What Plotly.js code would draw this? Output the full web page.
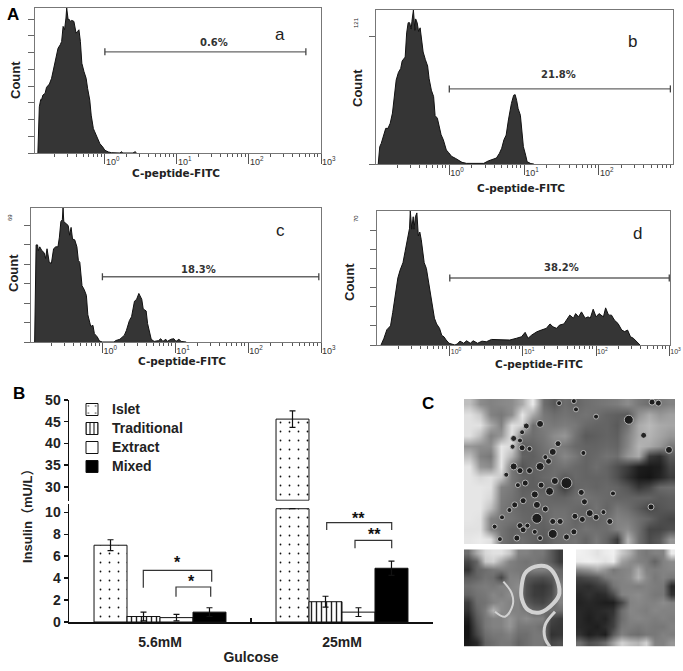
<!DOCTYPE html>
<html>
<head>
<meta charset="utf-8">
<script src="https://cdn.plot.ly/plotly-3.0.1.min.js"></script>
<style>body{margin:0;background:#fff}</style>
</head>
<body>
<div id="plotArea" style="width:683px;height:671px"></div>
<script>
// Panel A histograms - x is log10 of C-peptide-FITC, y is count
var logA = [-0.93,-0.91,-0.89,-0.88,-0.86,-0.83,-0.81,-0.77,-0.74,-0.72,-0.69,-0.67,-0.65,-0.62,-0.60,-0.58,-0.56,-0.54,-0.53,-0.51,-0.50,-0.48,-0.46,-0.43,-0.40,-0.38,-0.36,-0.34,-0.32,-0.29,-0.26,-0.24,-0.21,-0.19,-0.16,-0.14,-0.11,-0.07,-0.03,0,0.05,0.09,0.21,0.23,0.25,0.39,0.42,0.44];
var countA = [0,2.76,3.2,3.16,3.46,3.56,3.92,4.12,4.46,4.86,5.46,5.76,6.26,6.46,6.66,7.56,7.36,8.06,8.66,7.96,8,7.86,7.92,7.86,7.16,7.26,7.36,6.66,5.36,4.86,4.46,3.86,3.16,2.26,1.46,1.26,0.96,0.56,0.36,0.16,0.06,0.02,0,0.08,0,0,0.08,0];

var logB = [-0.95,-0.93,-0.91,-0.88,-0.85,-0.82,-0.79,-0.76,-0.73,-0.71,-0.68,-0.65,-0.63,-0.59,-0.57,-0.55,-0.53,-0.51,-0.50,-0.48,-0.46,-0.45,-0.43,-0.41,-0.39,-0.37,-0.35,-0.32,-0.29,-0.27,-0.24,-0.21,-0.19,-0.16,-0.13,-0.11,-0.08,-0.04,-0.01,0.03,0.08,0.12,0.17,0.23,0.30,0.41,0.46,0.52,0.59,0.63,0.67,0.70,0.73,0.76,0.79,0.81,0.83,0.86,0.88,0.90,0.92,0.95,0.97,0.99,1.02,1.04,1.09,1.13];
var countB = [0,13.6,16.2,22.7,28,28,32,40,53,66,72,75,81,84,103,111,111,106,112,121,105,114,111,104,107,96,88,82,77,67,58,53,38,36,28,23,19,11,9,6,4.5,3,1.3,0.5,0.5,0,0.5,2.4,3.7,4.7,8.4,12.3,19,22.7,34.6,42.4,47.6,54,54.5,50,43.5,38.3,24,13.6,7,1.8,0.3,0];

var logC = [-0.93,-0.91,-0.89,-0.88,-0.86,-0.83,-0.80,-0.78,-0.76,-0.73,-0.70,-0.67,-0.64,-0.61,-0.59,-0.57,-0.55,-0.54,-0.53,-0.50,-0.47,-0.45,-0.43,-0.41,-0.38,-0.35,-0.33,-0.31,-0.28,-0.25,-0.22,-0.20,-0.16,-0.13,-0.11,-0.07,-0.04,0,0.16,0.18,0.24,0.30,0.33,0.37,0.40,0.44,0.47,0.50,0.54,0.56,0.60,0.62,0.65,0.67,0.71,0.77,0.80,0.83,0.87,0.89,0.94,0.98,1.01,1.05,1.08,1.12,1.15];
var countC = [0,50,50,47,49,47,46,43,48,41,40.5,48,49,49,54,62,63,69,62,61,60,55,59,53,52.6,49,42,41,29,27,24,14,8,8.6,4.3,2.6,0.5,0,0,0.7,1.4,3.4,6,11,13,21,22,25,22,17,16,9.5,5,1.4,0.3,0.7,1.7,0.3,1.4,0.3,1.4,1.7,0.3,1.4,0.3,0.3,0];

var logD = [-0.94,-0.90,-0.86,-0.81,-0.78,-0.75,-0.71,-0.68,-0.64,-0.61,-0.58,-0.55,-0.54,-0.52,-0.50,-0.49,-0.47,-0.45,-0.43,-0.41,-0.39,-0.37,-0.35,-0.32,-0.30,-0.27,-0.24,-0.21,-0.18,-0.14,-0.11,-0.08,-0.05,-0.01,0.07,0.10,0.14,0.19,0.23,0.28,0.32,0.38,0.44,0.50,0.57,0.64,0.73,0.82,0.91,0.98,1.03,1.07,1.12,1.19,1.25,1.32,1.37,1.41,1.46,1.50,1.56,1.60,1.64,1.69,1.72,1.76,1.80,1.85,1.89,1.92,1.96,2.00,2.04,2.10,2.13,2.17,2.21,2.25,2.30,2.35,2.39,2.43,2.47,2.51,2.55,2.60];
var countD = [0,3.5,8,10,17,26,35,39,43,49,56,61,70,60.5,67,60.5,67,69,57,59,55,47,43,40,35,29,22.5,14,11,8.7,5,4.3,2.6,0.9,0,0.5,2,0.9,2.2,0.9,2.2,0.9,2,1.7,2.9,2.9,2.6,2.6,3.5,4.3,6.6,3.5,5.2,6.9,7.8,8.7,11,9.5,8.7,10.4,11,13,15.6,14,16.4,14.7,17.3,14,14.7,14,18.7,14.7,16.4,14.7,19.4,15.6,15.6,13,11.2,7.8,7,7.8,4.3,3.5,1.7,0];

// gate bars: [start, end] in log10, height in counts
var gateLogA = [0,2.79], gateLogB = [0,2.955], gateLogC = [0,2.97], gateLogD = [0,3];
var gateCountA = 6.04, gateCountB = 59, gateCountC = 33.6, gateCountD = 35;
var gateLabels = ["0.6%","21.8%","18.3%","38.2%"];
var decadeTicks = [1,10,100,1000];
var decadeText = ["10<sup>0</sup>","10<sup>1</sup>","10<sup>2</sup>","10<sup>3</sup>"];

// Panel B
var categories = ["5.6mM","25mM"];
var islet = [7.0,45.6], isletErr = [0.5,1.9];
var traditional = [0.5,1.85], traditionalErr = [0.4,0.5];
var extract = [0.4,0.9], extractErr = [0.3,0.4];
var mixed = [0.9,4.9], mixedErr = [0.4,0.65];
var brokenLow = 10.33, brokenHigh = 26.9;

// Panel C - micrographs, grey levels read on a coarse grid
var greyTop = [
[190,140,130,135,140,170,235,110,90,110,100,110,115,120,125,140,120,110,120,130],
[225,200,130,120,140,230,170,120,110,115,110,115,110,100,95,90,145,170,150,160],
[225,225,170,130,225,210,110,125,120,125,120,105,100,100,90,115,170,185,170,165],
[225,190,130,150,225,120,110,120,140,150,115,90,95,100,95,130,170,180,165,150],
[150,140,140,230,215,90,100,115,130,120,105,100,100,105,100,135,180,170,150,120],
[190,130,120,230,180,100,95,110,115,135,120,100,105,115,110,150,170,60,45,90],
[230,150,140,230,120,85,100,100,110,115,105,100,110,100,80,60,30,25,30,70],
[230,215,225,200,120,100,95,105,110,90,105,100,100,100,80,50,25,20,35,60],
[230,230,225,130,120,95,95,95,100,60,100,105,100,105,100,85,55,70,105,110],
[230,230,215,125,115,100,105,105,100,100,110,115,110,105,100,100,100,100,90,95],
[230,230,190,120,110,100,100,105,110,110,105,100,115,100,120,110,90,70,85,90],
[230,225,130,120,115,105,100,100,115,115,100,105,100,110,130,125,110,100,80,70],
[225,225,130,115,100,100,100,95,105,110,105,115,110,110,130,140,110,70,70,80],
[230,235,225,115,100,110,100,90,105,110,115,100,120,100,60,180,110,75,90,150]];
var granuleCol = [7.2,5.9,5.5,4.7,5.3,4.6,5.5,6.2,9,10.4,10.6,8.4,8.9,7.2,8,7.7,4.7,5.3,6.2,4,5.8,5.1,7.3,8.6,6.7,8.1,9.7,11.1,11.4,5.6,4.8,6.9,7.7,4.3,6.9,5.3,5.6,8.4,9.1,10.5,11.2,11.9,12.5,13.2,13.8,8.4,9.7,10.4,5,2.9,3.6,3.4,17.7,19.4,18.4,17.8,17,15.6,12.5,11.3,14.1,7.2,6,6.7];
var granuleRow = [2.4,2.6,3.2,3.8,4,4.6,4.7,4.8,0.4,0.2,1,5.1,4.3,6.5,6,5.6,6.5,6.9,6.9,7.3,8.1,8.3,8.3,7.9,9.2,8.9,8.1,9,9.9,9.8,10.2,10.2,10.6,10.7,11.5,12.2,12.6,11.8,11.8,11.3,11.6,11,11.4,10.9,11.8,13,13.3,12.8,13.4,12.3,11.4,13.5,10.4,4.9,0.4,0.3,3.5,2,1.7,5.2,9.1,13.4,12.2,12.8];
var granuleSize = [7,6,5,6,5,5,6,5,5,5,5,7,6,8,6,5,7,6,6,5,6,5,6,7,7,8,11,6,6,6,6,7,6,5,10,6,6,6,6,6,6,7,6,5,6,9,6,6,6,5,5,5,6,7,6,6,6,9,5,5,5,5,5,5];
var greyLeft = [
[110,170,215,225,225,200,130,130,120,120,90,60],
[70,100,200,210,170,130,120,115,120,110,90,60],
[50,100,110,120,125,125,120,120,130,130,120,100],
[90,100,115,110,70,130,130,90,85,80,90,110],
[110,120,125,120,130,130,140,80,60,55,70,130],
[100,115,120,135,125,140,130,80,60,60,75,130],
[60,110,115,130,140,130,130,90,75,70,90,130],
[50,100,125,180,140,130,130,120,100,100,115,110],
[30,90,120,130,130,150,130,140,130,130,70,60],
[20,80,120,130,130,150,120,120,120,110,60,55],
[20,70,110,120,120,130,110,110,120,120,50,55],
[25,40,100,110,120,120,100,110,120,120,70,80]];
var ringCol = [6.48,6.88,8.09,9.5,10.5,11.03,10.3,8.7,7.28,6.48,6.48];
var ringRow = [3.9,2.46,1.64,1.64,2.67,4.93,6.17,7.28,7,5.55,3.9];
var arcCol = [4.26,5.27,5.39,4.46,3.25];
var arcRow = [3.49,4.93,6.37,7.81,7.2];
var edgeCol = [10.5,9.3,9.3,9.9];
var edgeRow = [7.2,8.84,10.49,11.5];
var greyRight = [
[240,235,225,235,240,200,170,130,120,130,130,235],
[235,240,235,225,235,160,140,130,125,100,130,140],
[140,150,170,150,120,130,135,170,130,125,130,135],
[70,80,90,120,130,130,140,180,140,120,130,120],
[50,45,60,70,115,130,130,125,130,125,120,40],
[40,50,40,45,75,130,135,140,130,120,120,50],
[35,40,35,30,30,70,130,135,130,130,140,130],
[40,35,40,45,50,110,135,130,125,135,130,130],
[40,30,40,35,60,110,130,135,130,125,130,125],
[40,35,30,45,65,120,125,120,125,120,120,130],
[50,30,40,30,90,130,115,110,120,120,130,125],
[110,80,90,110,160,210,190,180,210,130,130,150]];

var W = 683, H = 671;
function xdom(l, r){ return [l / W, r / W]; }
function ydom(t, b){ return [1 - b / H, 1 - t / H]; }
function px(x){ return x / W; }
function py(y){ return 1 - y / H; }

var sans = "Liberation Sans, Arial, sans-serif";

var minorTicks = [];
[0.1,1,10,100].forEach(function(d){
    [2,3,4,5,6,7,8,9].forEach(function(m){ minorTicks.push(d * m); });
});

var layout = {
    width: W, height: H,
    margin: {l:0, r:0, t:0, b:0},
    paper_bgcolor: "#fff", plot_bgcolor: "#fff",
    showlegend: true,
    bargap: 0.275, bargroupgap: 0, barmode: "group",
    legend: {x: px(72), y: py(395), xanchor: "left", yanchor: "top", bgcolor: "rgba(0,0,0,0)",
        font: {family: sans, size: 12, color: "#222", weight: "bold"}, tracegroupgap: 0, traceorder: "normal"},
    annotations: [], shapes: []
};
var data = [];

function note(text, x, y, size, opts){
    layout.annotations.push(Object.assign({
        text: text, x: px(x), y: py(y), xref: "paper", yref: "paper", showarrow: false,
        xanchor: "center", yanchor: "middle",
        font: {family: sans, size: size, color: "#222"}
    }, opts || {}));
}

// one flow histogram with its frame and gate
function histPanel(n, box, logRange, yMax, yTicks, logs, counts, gateLog, gateCount, tickSize){
    var xa = "xaxis" + n, ya = "yaxis" + n;
    layout[xa] = {
        domain: xdom(box[0], box[1]), anchor: "y" + n, type: "log", range: logRange,
        showgrid: false, zeroline: false, showline: true, mirror: true, linecolor: "#777", linewidth: 1,
        tickmode: "array", tickvals: decadeTicks, ticktext: decadeText,
        ticks: "outside", ticklen: 10, tickcolor: "#555", ticklabelposition: "outside right",
        tickfont: {family: sans, size: tickSize, color: "#333"},
        minor: {tickmode: "array", tickvals: minorTicks, ticks: "outside", ticklen: 3, tickcolor: "#555", showgrid: false}
    };
    layout[ya] = {
        domain: ydom(box[2], box[3]), anchor: "x" + n, range: [0, yMax],
        showgrid: false, zeroline: false, showline: true, mirror: true, linecolor: "#777", linewidth: 1,
        tickmode: "array", tickvals: yTicks, showticklabels: false, ticks: "outside", ticklen: 6, tickcolor: "#666"
    };
    data.push({
        type: "scatter", mode: "lines", xaxis: "x" + n, yaxis: "y" + n, showlegend: false, hoverinfo: "skip",
        x: logs.map(function(v){ return Math.pow(10, v); }), y: counts,
        fill: "tozeroy", fillcolor: "#353535", line: {color: "#111", width: 1}
    });
    data.push({
        type: "scatter", mode: "lines+markers", xaxis: "x" + n, yaxis: "y" + n, showlegend: false, hoverinfo: "skip", cliponaxis: false,
        x: gateLog.map(function(v){ return Math.pow(10, v); }), y: [gateCount, gateCount],
        line: {color: "#666", width: 1.3},
        marker: {symbol: "line-ns", size: 5, line: {color: "#444", width: 1.3}}
    });
}

histPanel("", [35,321,8,153], [-0.97,3], 8.66, [0,1,2,3,4,5,6,7,8], logA, countA, gateLogA, gateCountA, 9);
histPanel(2, [376,673,10,164], [-0.98,2.99], 121, [0,100], logB, countB, gateLogB, gateCountB, 9);
histPanel(3, [31,321,208,342], [-0.98,3], 69, [0,10,20,30,40,50,60], logC, countC, gateLogC, gateCountC, 9);
histPanel(4, [377,670,211,345], [-0.995,3.01], 70, [0,10,20,30,40,50,60], logD, countD, gateLogD, gateCountD, 7);

var pctFont = {family: "DejaVu Sans", size: 10, color: "#333", weight: "bold"};
note(gateLabels[0], 214, 42, 10, {font: pctFont});
note(gateLabels[1], 558, 75, 10, {font: pctFont});
note(gateLabels[2], 198, 269, 10, {font: pctFont});
note(gateLabels[3], 561, 267, 10, {font: pctFont});
[[176,173],[521,188],[182,361],[539,364]].forEach(function(p){
    note("C-peptide-FITC", p[0], p[1], 10.5, {font: {family: "DejaVu Sans", size: 10.5, color: "#222", weight: "bold"}});
});
[[15,80],[357,88],[13,273],[350,282]].forEach(function(p){
    note("Count", p[0], p[1], 12, {textangle: -90, font: {family: "Liberation Sans Narrow, Liberation Sans", size: 13, color: "#222", weight: "bold"}});
});
note("a", 280, 34, 17); note("b", 632, 41, 17); note("c", 280, 231, 17); note("d", 637, 234, 17);
note("121", 356, 23, 6, {textangle: -90}); note("69", 10, 218, 6, {textangle: -90}); note("70", 356, 219, 6, {textangle: -90});
var letterFont = {family: sans, size: 17, color: "#000", weight: "bold"};
note("A", 13, 14, 17, {font: letterFont});
note("B", 19, 393, 17, {font: letterFont});
note("C", 428, 403, 17, {font: letterFont});

// Panel B axes - broken y axis, lower part 0-10 and upper part 30-50
var bold14 = {family: sans, size: 14, color: "#222", weight: "bold"};
layout.xaxis5 = {
    domain: xdom(69,433), anchor: "y5", type: "category", categoryorder: "array", categoryarray: categories,
    range: [-0.5,1.5], tickson: "boundaries", ticks: "inside", ticklen: 4, tickwidth: 1.5, tickcolor: "#111",
    showgrid: false, zeroline: false, showline: true, linecolor: "#111", linewidth: 1.5,
    tickfont: bold14, ticklabelstandoff: 7,
    title: {text: "Gulcose", font: bold14, standoff: 3}
};
layout.yaxis5 = {
    domain: ydom(504,622), anchor: "x5", range: [0,10.76], tickvals: [0,2,4,6,8,10],
    showgrid: false, zeroline: false, showline: true, linecolor: "#111", linewidth: 1.5,
    ticks: "outside", ticklen: 4, tickwidth: 1.5, tickcolor: "#111", tickfont: bold14
};
layout.xaxis6 = {
    domain: xdom(69,433), anchor: "y6", type: "category", categoryorder: "array", categoryarray: categories,
    range: [-0.5,1.5], visible: false
};
layout.yaxis6 = {
    domain: ydom(400,500.7), anchor: "x6", range: [brokenHigh - 0.1,50], tickvals: [30,35,40,45,50],
    showgrid: false, zeroline: false, showline: true, linecolor: "#111", linewidth: 1.5,
    ticks: "outside", ticklen: 4, tickwidth: 1.5, tickcolor: "#111", tickfont: bold14
};

function errBar(vals){
    return {type: "data", array: vals, visible: true, color: "#111", thickness: 1.2, width: 3};
}
var outline = {color: "#111", width: 1};
var dots = {shape: ".", size: 9, solidity: 0.03, fgcolor: "#111", bgcolor: "#fff"};
function legendName(s){ return '<span style="font-size:14px">' + s + "</span>"; }
data.push({type: "bar", name: legendName("Islet"), x: categories, y: [islet[0], brokenLow], xaxis: "x5", yaxis: "y5",
    error_y: errBar([isletErr[0], 0]), hoverinfo: "skip", marker: {color: "#fff", line: outline, pattern: dots}});
data.push({type: "bar", name: legendName("Traditional"), x: categories, y: traditional, xaxis: "x5", yaxis: "y5",
    error_y: errBar(traditionalErr), hoverinfo: "skip",
    marker: {color: "#fff", line: outline, pattern: {shape: "|", size: 5, solidity: 0.28, fgcolor: "#222", bgcolor: "#fff"}}});
data.push({type: "bar", name: legendName("Extract"), x: categories, y: extract, xaxis: "x5", yaxis: "y5",
    error_y: errBar(extractErr), hoverinfo: "skip", marker: {color: "#fff", line: outline}});
data.push({type: "bar", name: legendName("Mixed"), x: categories, y: mixed, xaxis: "x5", yaxis: "y5",
    error_y: errBar(mixedErr), hoverinfo: "skip", marker: {color: "#000", line: outline}});
data.push({type: "bar", showlegend: false, x: [categories[1]], y: [islet[1] - brokenHigh], base: [brokenHigh],
    width: 0.181, offset: -0.3625, xaxis: "x6", yaxis: "y6", hoverinfo: "skip",
    error_y: errBar([isletErr[1]]), marker: {color: "#fff", line: outline, pattern: dots}});

// significance brackets
function bracketPx(l, r, t, bl, br){
    layout.shapes.push({type: "path", xref: "paper", yref: "paper",
        path: "M" + px(l) + "," + py(bl) + " L" + px(l) + "," + py(t) + " L" + px(r) + "," + py(t) + " L" + px(r) + "," + py(br),
        line: {color: "#333", width: 1.2}});
}
bracketPx(143.3,211.7,570.3,587.7,581.7);
bracketPx(176,210.7,587,596.7,596.7);
bracketPx(326.7,391.7,522.7,530,530);
bracketPx(355,391.7,540.3,548.3,548.3);
var starFont = {family: sans, size: 16, color: "#111", weight: "bold"};
note("*", 177.7, 562, 16, {font: starFont}); note("*", 191, 581, 16, {font: starFont});
note("**", 358.3, 518, 16, {font: starFont}); note("**", 374, 534, 16, {font: starFont});
note("Insulin（mU/L）", 27, 513, 13, {textangle: -90, font: {family: "Liberation Sans, Noto Sans CJK SC", size: 13, color: "#222", weight: "bold"}});

// Panel C micrographs
function microPanel(n, box, z){
    layout["xaxis" + n] = {domain: xdom(box[0], box[1]), anchor: "y" + n, visible: false, range: [-0.5, z[0].length - 0.5]};
    layout["yaxis" + n] = {domain: ydom(box[2], box[3]), anchor: "x" + n, visible: false, range: [z.length - 0.5, -0.5]};
    data.push({type: "heatmap", z: z, xaxis: "x" + n, yaxis: "y" + n, zmin: 0, zmax: 255, zsmooth: "best",
        colorscale: [[0,"#000"],[1,"#fff"]], showscale: false, hoverinfo: "skip", showlegend: false});
}
microPanel(7, [464,675.3,399,544.3], greyTop);
microPanel(8, [464,563.3,549.3,646.7], greyLeft);
microPanel(9, [576,675.3,549.3,646.7], greyRight);
data.push({type: "scatter", mode: "markers", xaxis: "x7", yaxis: "y7", hoverinfo: "skip", showlegend: false,
    x: granuleCol.map(function(v){ return v - 0.5; }), y: granuleRow.map(function(v){ return v - 0.5; }),
    marker: {color: "#161616", size: granuleSize, opacity: 0.9, line: {color: "#bdbdbd", width: 1}}});
[[ringCol, ringRow, 4], [arcCol, arcRow, 2], [edgeCol, edgeRow, 3]].forEach(function(a){
    data.push({type: "scatter", mode: "lines", xaxis: "x8", yaxis: "y8", hoverinfo: "skip", showlegend: false,
        x: a[0], y: a[1], line: {color: "#d2d2d2", width: a[2], shape: "spline"}});
});

Plotly.newPlot("plotArea", data, layout, {displayModeBar: false, staticPlot: true});
</script>
</body>
</html>
